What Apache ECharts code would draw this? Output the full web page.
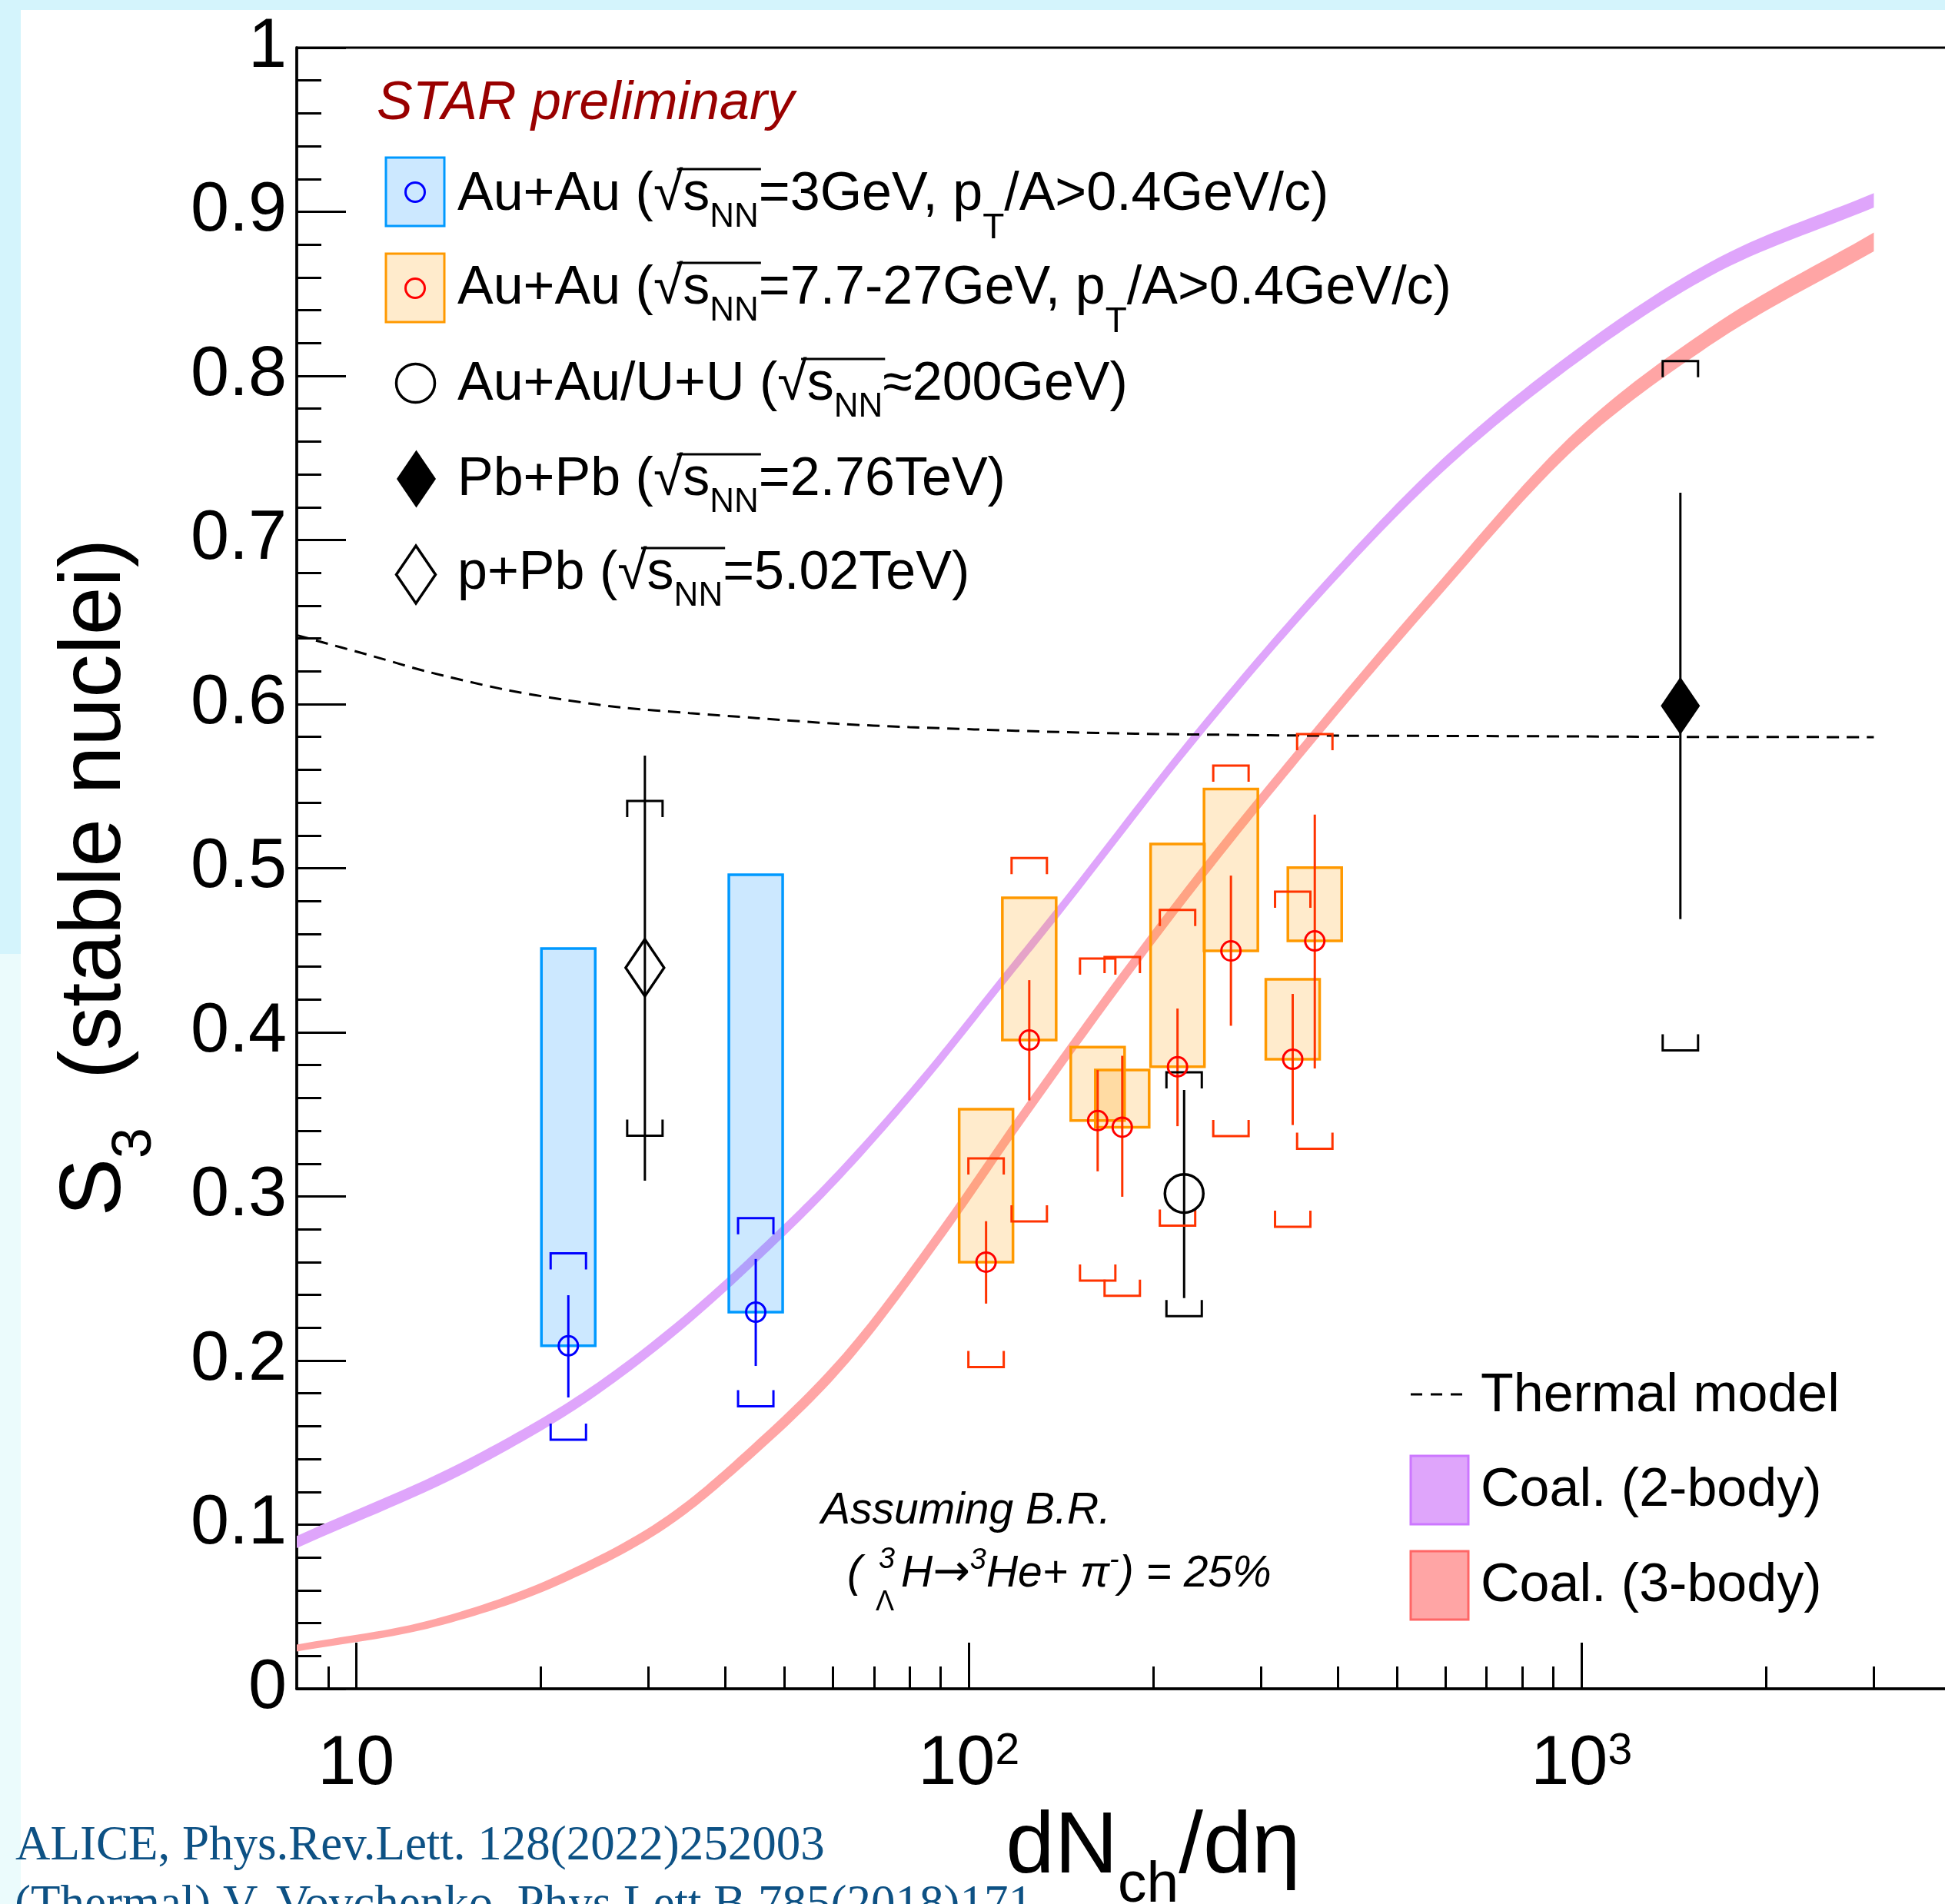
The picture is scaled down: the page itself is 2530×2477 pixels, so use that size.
<!DOCTYPE html>
<html><head><meta charset="utf-8">
<script src="https://cdn.jsdelivr.net/npm/echarts@6/dist/echarts.min.js"></script>
<style>html,body{margin:0;padding:0;background:#fff}#c{width:2530px;height:2477px}</style>
</head><body><div id="c"></div>
<script>
// ---------------- data ----------------
const xMajorTicks = [10, 100, 1000];
const xMinorTicks = [9, 20, 30, 40, 50, 60, 70, 80, 90, 200, 300, 400, 500, 600, 700, 800, 900, 2000, 3000];

// Au+Au 3 GeV (blue)
const blueX      = [22.2, 44.9];
const blueY      = [0.209, 0.2295];
const blueStatLo = [0.1775, 0.1967];
const blueStatHi = [0.2398, 0.2619];
const blueBoxLo  = [0.209, 0.2295];
const blueBoxHi  = [0.451, 0.496];
const blueBrLo   = [0.1518, 0.1721];
const blueBrHi   = [0.2653, 0.2868];

// Au+Au 7.7-27 GeV (red)
const redX      = [106.7, 125.5, 162.3, 178.0, 219.1, 267.8, 337.8, 367.0];
const redY      = [0.260, 0.3953, 0.3462, 0.3422, 0.379, 0.4496, 0.3836, 0.4557];
const redStatLo = [0.2347, 0.3585, 0.3153, 0.2998, 0.3428, 0.404, 0.3435, 0.378];
const redStatHi = [0.2849, 0.4318, 0.377, 0.3857, 0.4145, 0.4955, 0.4234, 0.5327];
const redBoxLo  = [0.260, 0.3953, 0.3462, 0.3422, 0.379, 0.4496, 0.3836, 0.4557];
const redBoxHi  = [0.3532, 0.482, 0.391, 0.377, 0.5148, 0.5482, 0.4323, 0.5004];
const redBrLo   = [0.196, 0.2848, 0.2487, 0.2395, 0.2822, 0.3368, 0.2815, 0.329];
const redBrHi   = [0.3232, 0.5062, 0.445, 0.4459, 0.4746, 0.5625, 0.4857, 0.5817];

// Au+Au/U+U 200 GeV
const rhicX = [224.6], rhicY = [0.3018], rhicStatLo = [0.238], rhicStatHi = [0.3649], rhicBrLo = [0.227], rhicBrHi = [0.3757];
// Pb+Pb 2.76 TeV
const pbpbX = [1450], pbpbY = [0.599], pbpbStatLo = [0.469], pbpbStatHi = [0.7288], pbpbBrLo = [0.389], pbpbBrHi = [0.809];
// p+Pb 5.02 TeV
const ppbX = [29.6], ppbY = [0.4394], ppbStatLo = [0.3096], ppbStatHi = [0.5686], ppbBrLo = [0.337], ppbBrHi = [0.541];

// Thermal model
const thermalX = [8, 10.7, 13, 17.4, 22, 27, 35, 45, 61, 80, 102, 140, 187, 260, 370, 585, 1000, 1600, 3000];
const thermalY = [0.642, 0.629, 0.620, 0.609, 0.6025, 0.598, 0.5945, 0.5915, 0.588, 0.586, 0.5846, 0.583, 0.582, 0.5813, 0.5808, 0.5806, 0.5803, 0.580, 0.5799];

// Coalescence 2-body band
const coal2X  = [8, 16.1, 24, 40.2, 45.2, 58, 83.9, 112.7, 136.8, 236.2, 367.7, 571, 984, 1614, 3000];
const coal2Lo = [0.0857, 0.1373, 0.1757, 0.2425, 0.2603, 0.2998, 0.3668, 0.4263, 0.4653, 0.5780, 0.6616, 0.7356, 0.8081, 0.8603, 0.9026];
const coal2Hi = [0.0931, 0.1447, 0.1831, 0.2499, 0.2677, 0.3072, 0.3742, 0.4337, 0.4727, 0.5854, 0.6690, 0.7436, 0.8165, 0.8689, 0.9114];
// Coalescence 3-body band
const coal3X  = [8, 13.5, 21.5, 34.2, 43.2, 62.5, 90.3, 121.2, 236.2, 367.7, 571, 984, 1614, 3000];
const coal3Lo = [0.0227, 0.0379, 0.0636, 0.1054, 0.1370, 0.1955, 0.2733, 0.3419, 0.4887, 0.5774, 0.6608, 0.7570, 0.8181, 0.8759];
const coal3Hi = [0.0269, 0.0427, 0.0696, 0.1126, 0.1450, 0.2045, 0.2827, 0.3513, 0.4977, 0.5860, 0.6698, 0.7670, 0.8289, 0.8873];

// texts
const legendPre  = ['Au+Au (', 'Au+Au (', 'Au+Au/U+U (', 'Pb+Pb (', 'p+Pb ('];
const legendPost = ['=3GeV, p{subT|T}/A>0.4GeV/c)', '=7.7-27GeV, p{subT|T}/A>0.4GeV/c)', '≈200GeV)', '=2.76TeV)', '=5.02TeV)'];
const modelLabels = ['Thermal model', 'Coal. (2-body)', 'Coal. (3-body)'];
const citations = ['ALICE, Phys.Rev.Lett. 128(2022)252003', '(Thermal) V. Vovchenko, Phys.Lett.B 785(2018)171'];

// ---------------- helpers ----------------
const FF = 'Liberation Sans';
const mctx = document.createElement('canvas').getContext('2d');
function tw(t, size, style) { mctx.font = (style || 'normal') + ' ' + size + 'px "' + FF + '"'; return mctx.measureText(t).width; }
const mid = (base, fs) => base - 0.3465 * fs;
const zip3 = (xs, a, b) => xs.map((x, i) => [x, a[i], b[i]]);
const zip2 = (xs, a) => xs.map((x, i) => [x, a[i]]);

// smooth (cubic Hermite in pixel space) through projected points, x monotonic
function smoothPts(P, n) {
  const m = P.length, out = [];
  const slope = (i) => {
    if (i === 0) return (P[1][1] - P[0][1]) / (P[1][0] - P[0][0]);
    if (i === m - 1) return (P[m - 1][1] - P[m - 2][1]) / (P[m - 1][0] - P[m - 2][0]);
    const h0 = P[i][0] - P[i - 1][0], h1 = P[i + 1][0] - P[i][0];
    const d0 = (P[i][1] - P[i - 1][1]) / h0, d1 = (P[i + 1][1] - P[i][1]) / h1;
    return (d0 * h1 + d1 * h0) / (h0 + h1);
  };
  for (let i = 0; i < m - 1; i++) {
    const x0 = P[i][0], x1 = P[i + 1][0], y0 = P[i][1], y1 = P[i + 1][1], h = x1 - x0;
    const m0 = slope(i) * h, m1 = slope(i + 1) * h;
    for (let k = 0; k < n; k++) {
      const t = k / n, t2 = t * t, t3 = t2 * t;
      const y = (2 * t3 - 3 * t2 + 1) * y0 + (t3 - 2 * t2 + t) * m0 + (-2 * t3 + 3 * t2) * y1 + (t3 - t2) * m1;
      out.push([x0 + t * h, y]);
    }
  }
  out.push(P[m - 1]);
  return out;
}

function bandSeries(xs, lo, hi, color) {
  return { type: 'custom', z: 1, silent: true, data: zip3(xs, lo, hi), encode: { x: 0, y: [1, 2] },
    renderItem: (p, api) => {
      if (p.dataIndex !== 0) return { type: 'group', children: [] };
      const up = smoothPts(xs.map((x, i) => api.coord([x, hi[i]])), 16);
      const dn = smoothPts(xs.map((x, i) => api.coord([x, lo[i]])), 16).reverse();
      return { type: 'polygon', shape: { points: up.concat(dn) }, style: { fill: color } };
    } };
}
function boxSeries(data, fill, stroke) {
  return { type: 'custom', z: 3, silent: true, data, encode: { x: 0, y: [1, 2] },
    renderItem: (p, api) => {
      const a = api.coord([api.value(0), api.value(2)]);
      const b = api.coord([api.value(0), api.value(1)]);
      const w = 70;
      return { type: 'rect', shape: { x: a[0] - w / 2, y: a[1], width: w, height: b[1] - a[1] },
        style: { fill, stroke, lineWidth: 3.5 } };
    } };
}
function barSeries(data, color) {
  return { type: 'custom', z: 4, silent: true, data, encode: { x: 0, y: [1, 2] },
    renderItem: (p, api) => {
      const a = api.coord([api.value(0), api.value(2)]);
      const b = api.coord([api.value(0), api.value(1)]);
      return { type: 'line', shape: { x1: a[0], y1: a[1], x2: b[0], y2: b[1] }, style: { stroke: color, lineWidth: 3 } };
    } };
}
function bracketSeries(data, color) {
  return { type: 'custom', z: 4, silent: true, data, encode: { x: 0, y: [1, 2] },
    renderItem: (p, api) => {
      const t = api.coord([api.value(0), api.value(2)]);
      const b = api.coord([api.value(0), api.value(1)]);
      const hw = 23, leg = 21;
      return { type: 'group', children: [
        { type: 'polyline', shape: { points: [[t[0] - hw, t[1] + leg], [t[0] - hw, t[1]], [t[0] + hw, t[1]], [t[0] + hw, t[1] + leg]] }, style: { stroke: color, lineWidth: 3, fill: null } },
        { type: 'polyline', shape: { points: [[b[0] - hw, b[1] - leg], [b[0] - hw, b[1]], [b[0] + hw, b[1]], [b[0] + hw, b[1] - leg]] }, style: { stroke: color, lineWidth: 3, fill: null } }
      ] };
    } };
}
function markerSeries(data, symbol, size, fill, stroke, bw) {
  return { type: 'scatter', z: 6, silent: true, data, symbol, symbolSize: size,
    itemStyle: { color: fill, borderColor: stroke, borderWidth: bw, opacity: 1 }, emphasis: { disabled: true } };
}

const blueFill = 'rgba(0,140,255,0.2)', blueStroke = '#0099ff';
const orFill = 'rgba(255,153,0,0.2)', orStroke = '#ff9900';
const redLine = '#ff3300';
const purple = '#dfa5fb', pink = '#ffa5a5';

const series = [
  bandSeries(coal2X, coal2Lo, coal2Hi, purple),
  bandSeries(coal3X, coal3Lo, coal3Hi, pink),
  { type: 'line', z: 2, silent: true, data: zip2(thermalX, thermalY), smooth: 0.3, symbol: 'none', showSymbol: false,
    lineStyle: { color: '#000', width: 3, type: [16, 10] } },
  boxSeries(zip3(blueX, blueBoxLo, blueBoxHi), blueFill, blueStroke),
  boxSeries(zip3(redX, redBoxLo, redBoxHi), orFill, orStroke),
  barSeries(zip3(blueX, blueStatLo, blueStatHi), '#0000ff'),
  barSeries(zip3(redX, redStatLo, redStatHi), redLine),
  barSeries(zip3(rhicX, rhicStatLo, rhicStatHi), '#000'),
  barSeries(zip3(pbpbX, pbpbStatLo, pbpbStatHi), '#000'),
  barSeries(zip3(ppbX, ppbStatLo, ppbStatHi), '#000'),
  bracketSeries(zip3(blueX, blueBrLo, blueBrHi), '#0000ff'),
  bracketSeries(zip3(redX, redBrLo, redBrHi), redLine),
  bracketSeries(zip3(rhicX, rhicBrLo, rhicBrHi), '#000'),
  bracketSeries(zip3(pbpbX, pbpbBrLo, pbpbBrHi), '#000'),
  bracketSeries(zip3(ppbX, ppbBrLo, ppbBrHi), '#000'),
  markerSeries(zip2(blueX, blueY), 'circle', 25, 'rgba(0,0,0,0)', '#0000ff', 3),
  markerSeries(zip2(redX, redY), 'circle', 25, 'rgba(0,0,0,0)', '#ff0000', 3),
  markerSeries(zip2(rhicX, rhicY), 'circle', 50, 'rgba(0,0,0,0)', '#000', 3.5),
  markerSeries(zip2(ppbX, ppbY), 'diamond', [50, 74], 'rgba(0,0,0,0)', '#000', 3.5),
  markerSeries(zip2(pbpbX, pbpbY), 'diamond', [51, 75], '#000', '#000', 0)
];

// ---------------- graphics (legends, annotations, background) ----------------
const G = [];
G.push({ type: 'rect', z: -10, silent: true, shape: { x: 0, y: 0, width: 2530, height: 13 }, style: { fill: '#d4f4fc' } });
G.push({ type: 'rect', z: -10, silent: true, shape: { x: 0, y: 13, width: 27, height: 1228 }, style: { fill: '#d4f4fc' } });
G.push({ type: 'rect', z: -10, silent: true, shape: { x: 0, y: 1241, width: 27, height: 1236 }, style: { fill: '#ebfbfc' } });

G.push({ type: 'text', z: 50, x: 490, y: mid(160, 70), style: { text: 'STAR preliminary', fontFamily: FF, fontSize: 70, fontStyle: 'italic', fill: '#990000', align: 'left', verticalAlign: 'middle' } });

const legBase = [278, 400, 525, 649, 771];
const LX = 595, LFS = 70, NNFS = 44, TFS = 46;
legendPre.forEach((pre, i) => {
  const b = legBase[i];
  G.push({ type: 'text', z: 50, x: LX, y: mid(b, LFS), style: {
    text: pre + '√s{subN|NN}' + legendPost[i], fontFamily: FF, fontSize: LFS, fill: '#000', align: 'left', verticalAlign: 'middle',
    rich: {
      subN: { fontFamily: FF, fontSize: NNFS, lineHeight: NNFS, padding: [58, 0, 0, 0], verticalAlign: 'middle', fill: '#000' },
      subT: { fontFamily: FF, fontSize: TFS, lineHeight: TFS, padding: [87, 0, 0, 0], verticalAlign: 'middle', fill: '#000' }
    } } });
  const wPre = tw(pre, LFS), wRad = tw('√', LFS), wS = tw('s', LFS), wNN = tw('NN', NNFS);
  G.push({ type: 'line', z: 50, shape: { x1: LX + wPre + wRad * 0.8, y1: b - 58, x2: LX + wPre + wRad + wS + wNN + 3, y2: b - 58 }, style: { stroke: '#000', lineWidth: 3 } });
});
// legend icons
G.push({ type: 'rect', z: 50, shape: { x: 502, y: 205, width: 76, height: 89 }, style: { fill: blueFill, stroke: blueStroke, lineWidth: 3 } });
G.push({ type: 'circle', z: 51, shape: { cx: 540, cy: 250, r: 12.5 }, style: { fill: null, stroke: '#0000ff', lineWidth: 3 } });
G.push({ type: 'rect', z: 50, shape: { x: 502, y: 330, width: 76, height: 89 }, style: { fill: orFill, stroke: orStroke, lineWidth: 3 } });
G.push({ type: 'circle', z: 51, shape: { cx: 540, cy: 375, r: 12.5 }, style: { fill: null, stroke: '#ff0000', lineWidth: 3 } });
G.push({ type: 'circle', z: 51, shape: { cx: 540.5, cy: 498.5, r: 25 }, style: { fill: null, stroke: '#000', lineWidth: 3.5 } });
G.push({ type: 'polygon', z: 51, shape: { points: [[541.5, 585.5], [567, 623], [541.5, 660.5], [516, 623]] }, style: { fill: '#000' } });
G.push({ type: 'polygon', z: 51, shape: { points: [[541, 710], [566.5, 747.5], [541, 785], [515.5, 747.5]] }, style: { fill: null, stroke: '#000', lineWidth: 3.5 } });

// model legend
G.push({ type: 'line', z: 50, shape: { x1: 1835, y1: 1814, x2: 1902, y2: 1814 }, style: { stroke: '#000', lineWidth: 3, lineDash: [15, 11] } });
G.push({ type: 'text', z: 50, x: 1926, y: mid(1841, 70), style: { text: modelLabels[0], fontFamily: FF, fontSize: 70, fill: '#000', align: 'left', verticalAlign: 'middle' } });
G.push({ type: 'rect', z: 50, shape: { x: 1835, y: 1894, width: 75, height: 89 }, style: { fill: purple, stroke: '#cc77ff', lineWidth: 3 } });
G.push({ type: 'text', z: 50, x: 1926, y: mid(1964, 70), style: { text: modelLabels[1], fontFamily: FF, fontSize: 70, fill: '#000', align: 'left', verticalAlign: 'middle' } });
G.push({ type: 'rect', z: 50, shape: { x: 1835, y: 2018, width: 75, height: 89 }, style: { fill: pink, stroke: '#ff6666', lineWidth: 3 } });
G.push({ type: 'text', z: 50, x: 1926, y: mid(2088, 70), style: { text: modelLabels[2], fontFamily: FF, fontSize: 70, fill: '#000', align: 'left', verticalAlign: 'middle' } });

// annotation
const AFS = 57;
G.push({ type: 'text', z: 50, x: 1068, y: mid(1986, AFS), style: { text: 'Assuming B.R.', fontFamily: FF, fontSize: AFS, fontStyle: 'italic', fill: '#000', align: 'left', verticalAlign: 'middle' } });
G.push({ type: 'text', z: 50, x: 1102, y: mid(2068, AFS), style: { text: '(', fontFamily: FF, fontSize: AFS, fontStyle: 'italic', fill: '#000', align: 'left', verticalAlign: 'middle' } });
G.push({ type: 'text', z: 50, x: 1143, y: mid(2043, 38), style: { text: '3', fontFamily: FF, fontSize: 38, fontStyle: 'italic', fill: '#000', align: 'left', verticalAlign: 'middle' } });
G.push({ type: 'text', z: 50, x: 1139, y: mid(2098, 36), style: { text: 'Λ', fontFamily: FF, fontSize: 36, fill: '#000', align: 'left', verticalAlign: 'middle' } });
G.push({ type: 'text', z: 50, x: 1172, y: mid(2068, AFS), style: {
  text: 'H{arr|→}{sup|3}He+ π{sup|-}) = 25%', fontFamily: FF, fontSize: AFS, fontStyle: 'italic', fill: '#000', align: 'left', verticalAlign: 'middle',
  rich: { sup: { fontFamily: FF, fontSize: 38, lineHeight: 38, fontStyle: 'italic', padding: [0, 0, 35, 0], verticalAlign: 'middle', fill: '#000' },
          arr: { fontFamily: 'DejaVu Sans', fontSize: 58, verticalAlign: 'middle', fill: '#000' } } } });

// citations
G.push({ type: 'text', z: 50, x: 20, y: mid(2424, 63), style: { text: citations[0], fontFamily: 'Liberation Serif', fontSize: 63, fill: '#0d5184', align: 'left', verticalAlign: 'middle' } });
G.push({ type: 'text', z: 50, x: 19, y: mid(2501, 63), style: { text: citations[1], fontFamily: 'Liberation Serif', fontSize: 63, fill: '#0d5184', align: 'left', verticalAlign: 'middle' } });

// ---------------- chart ----------------
const chart = echarts.init(document.getElementById('c'), null, { renderer: 'canvas' });
const tickLine = { color: '#000', width: 3 };
chart.setOption({
  animation: false,
  backgroundColor: '#fff',
  grid: { left: 386, top: 62, width: 2151, height: 2135, show: true, borderColor: '#000', borderWidth: 3, backgroundColor: 'rgba(0,0,0,0)', containLabel: false, outerBoundsMode: 'none' },
  xAxis: [
    { type: 'log', logBase: 10, min: 8, max: 4000, position: 'bottom', gridIndex: 0,
      axisLine: { show: true, onZero: false, lineStyle: { color: '#000', width: 3.5 } },
      axisTick: { show: true, inside: true, length: 60, customValues: xMajorTicks, lineStyle: tickLine },
      axisLabel: { show: true, customValues: xMajorTicks, margin: 54,
        formatter: v => { const e = Math.round(Math.log10(v)); return e === 1 ? '{m|10}' : '{m|10}{sup|' + e + '}'; },
        rich: { m: { fontFamily: FF, fontSize: 90, lineHeight: 130, verticalAlign: 'top', color: '#000' },
                sup: { fontFamily: FF, fontSize: 57, lineHeight: 57, verticalAlign: 'top', color: '#000' } } },
      splitLine: { show: false }, minorTick: { show: false }, minorSplitLine: { show: false },
      name: '{m|dN}{sub|ch}{m|/dη}', nameLocation: 'middle', nameGap: 151, nameMoveOverlap: false,
      nameTextStyle: { padding: [0, 0, 0, 77],
        rich: { m: { fontFamily: FF, fontSize: 114, lineHeight: 114, verticalAlign: 'top', color: '#000' },
                sub: { fontFamily: FF, fontSize: 75, lineHeight: 75, padding: [68, 0, 0, 0], verticalAlign: 'top', color: '#000' } } } },
    { type: 'log', logBase: 10, min: 8, max: 4000, position: 'bottom', gridIndex: 0,
      axisLine: { show: false },
      axisTick: { show: true, inside: true, length: 29, customValues: xMinorTicks, lineStyle: tickLine },
      axisLabel: { show: false }, splitLine: { show: false } }
  ],
  yAxis: {
    type: 'value', min: 0, max: 1, interval: 0.1,
    axisLine: { show: true, onZero: false, lineStyle: { color: '#000', width: 3.5 } },
    axisTick: { show: true, inside: true, length: 64, lineStyle: tickLine },
    minorTick: { show: true, splitNumber: 5, length: 32, lineStyle: tickLine },
    axisLabel: { fontFamily: FF, fontSize: 90, color: '#000', margin: 13 },
    splitLine: { show: false },
    name: '{m|S}{sub|3}{m|  (stable nuclei)}', nameLocation: 'middle', nameGap: 205, nameMoveOverlap: false,
    nameTextStyle: { padding: [0, 24, 0, 0], rich: {
      m: { fontFamily: FF, fontSize: 113, lineHeight: 113, verticalAlign: 'top', color: '#000' },
      sub: { fontFamily: FF, fontSize: 72, lineHeight: 72, padding: [72, 0, 0, 0], verticalAlign: 'top', color: '#000' } } }
  },
  series,
  graphic: { elements: G }
});
</script></body></html>
